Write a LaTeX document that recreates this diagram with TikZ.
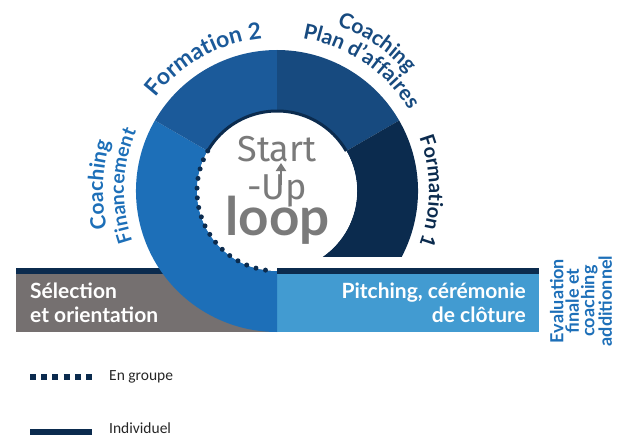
\documentclass[tikz,border=0pt]{standalone}
\usepackage{fontspec}
\usetikzlibrary{decorations.text,arrows.meta}
\setmainfont{Lato}
\newfontfamily\calf{Carlito}
\newfontfamily\lightf{Fira Sans}
\definecolor{cF}{HTML}{1B5A9A}
\definecolor{cP}{HTML}{174A7F}
\definecolor{cD}{HTML}{0B2B4E}
\definecolor{cB}{HTML}{1D6FB8}
\definecolor{cG}{HTML}{757070}
\definecolor{cL}{HTML}{429BD1}
\definecolor{cT}{HTML}{7A7A7A}
\tikzset{
 arcw/.style n args={4}{decorate,decoration={text along path,text align=center,raise=#4,
   text={|\fontsize{#2}{#2}\selectfont\bfseries\color{#1}|#3}}},
 bartext/.style={text=white,font=\fontsize{21}{23.5}\selectfont\bfseries,inner sep=0pt},
 legendtext/.style={font=\calf\fontsize{15.5}{16}\selectfont,anchor=west,inner sep=0pt,text=black!85}
}
\begin{document}
\begin{tikzpicture}[x=1pt,y=1pt]
\useasboundingbox (0,0) rectangle (620,437);
\coordinate (C) at (277,246);
% bars
\fill[cG] (16,105) rectangle (277,163);
\fill[cL] (277,105) rectangle (539,163);
\fill[cD] (16,163) rectangle (539,169);
% ring
\fill[cB] ([shift={(150:141)}]C) arc[start angle=150,end angle=270,radius=141] -- ([shift={(270:80)}]C) arc[start angle=270,end angle=150,radius=80] -- cycle;
\fill[cF] ([shift={(150:141)}]C) arc[start angle=150,end angle=90,radius=141] -- ([shift={(90:80)}]C) arc[start angle=90,end angle=150,radius=80] -- cycle;
\fill[cP] ([shift={(90:141)}]C) arc[start angle=90,end angle=30,radius=141] -- ([shift={(30:80)}]C) arc[start angle=30,end angle=90,radius=80] -- cycle;
\begin{scope}
\clip (300,181) rectangle (440,400);
\fill[cD] ([shift={(30:141)}]C) arc[start angle=30,end angle=-60,radius=141] -- ([shift={(-60:80)}]C) arc[start angle=-60,end angle=30,radius=80] -- cycle;
\end{scope}
\fill[white] (C) circle[radius=80];
\fill[cD] (277,163) rectangle (539,169);
\draw[cD,line width=3] ([shift={(150:80)}]C) arc[start angle=150,end angle=30,radius=80];
\draw[cD,line width=5,line cap=round,dash pattern=on 0pt off 9.75pt] ([shift={(150:80)}]C) arc[start angle=150,end angle=267,radius=80];
% curved labels
\path[arcw={cF}{23}{Formation 2}{0pt}] ([shift={(150:153)}]C) arc[start angle=150,end angle=88,radius=153];
\path[arcw={cP}{21}{Plan d'affaires}{0pt}] ([shift={(88:155)}]C) arc[start angle=88,end angle=24,radius=155];
\path[arcw={cP}{21}{Coaching}{0pt}] ([shift={(80:176)}]C) arc[start angle=80,end angle=32,radius=176];
\path[arcw={cD}{20}{Formation 1}{0pt}] ([shift={(30:152)}]C) arc[start angle=30,end angle=-30,radius=152];
\path[arcw={cB}{19.5}{Financement}{0pt}] ([shift={(205:153)}]C) arc[start angle=205,end angle=151,radius=153];
\path[arcw={cB}{21}{Coaching}{0pt}] ([shift={(202:174)}]C) arc[start angle=202,end angle=154,radius=174];
% centre
\node[text=cT,font=\lightf\fontsize{36}{36}\selectfont,inner sep=0pt,anchor=base] (start) at (277,276) {Start};
\node[text=cT,font=\lightf\fontsize{36}{36}\selectfont,inner sep=0pt,anchor=base] (up) at (277,238) {-Up};
\node[text=cT,font=\fontsize{53}{53}\selectfont\bfseries,inner sep=0pt,anchor=base] (loop) at (277.5,202) {loop};
\draw[cT,line width=2.6,-{Triangle[length=8pt,width=10pt]}] (281,252) -- (281,274);
% bar labels
\node[bartext,align=left,anchor=north west] (sel) at (30,154) {Sélection\\et orientation};
\node[bartext,align=right,anchor=north east] (pitch) at (526,154) {Pitching, cérémonie\\de clôture};
\node[rotate=90,text=cB,font=\fontsize{18}{15.5}\selectfont\bfseries,align=center,inner sep=0pt] (eval) at (581,136) {Evaluation\\finale et\\coaching\\additionnel};
% legend
\draw[cD,line width=5.5,dash pattern=on 6pt off 5.2pt] (30,60) coordinate (ga) -- (92,60) coordinate (gb);
\node[legendtext] (g) at (109,60) {En groupe};
\draw[cD,line width=6] (30,5) coordinate (ia) -- (92,5) coordinate (ib);
\node[legendtext] (i) at (109,9) {Individuel};
\end{tikzpicture}
\end{document}
